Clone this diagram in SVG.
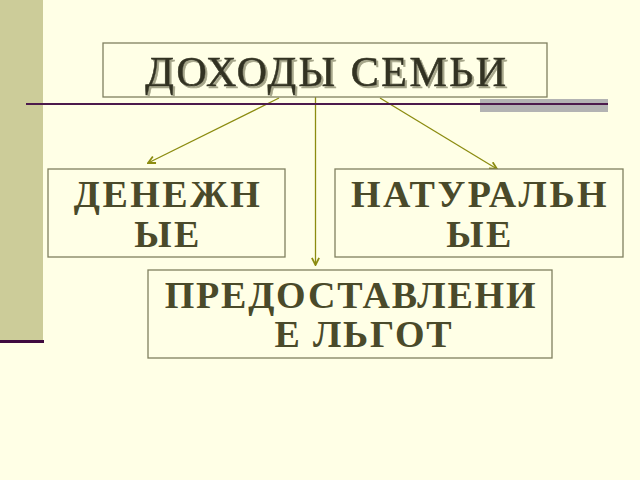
<svg xmlns="http://www.w3.org/2000/svg" width="640" height="480" viewBox="0 0 640 480">
<defs>
<style>
.box{fill:#FFFFE6;stroke:#808060;stroke-width:1.3}
.lbl{font-family:"Liberation Serif","Times New Roman",serif;font-weight:bold;font-size:38px;fill:#4A4A2A;text-anchor:middle;letter-spacing:2.5px}
.tight{letter-spacing:1.8px}
.title{font-family:"Liberation Serif","Times New Roman",serif;font-size:42px;text-anchor:middle;letter-spacing:2.5px;fill:#333322;stroke:#333322;stroke-width:0.6}
.conn{stroke:#8C8C10;stroke-width:1.3;fill:none}
</style>
<filter id="sh" x="-5%" y="-20%" width="110%" height="140%">
<feDropShadow dx="2" dy="2" stdDeviation="0.4" flood-color="#A6A68A" flood-opacity="1"/>
</filter>
<marker id="ah" viewBox="0 0 10 10" refX="9" refY="5" markerWidth="9" markerHeight="9" markerUnits="userSpaceOnUse" orient="auto">
<path d="M1,1 L9,5 L1,9" fill="none" stroke="#8C8C10" stroke-width="2"/>
</marker>
</defs>
<rect x="0" y="0" width="640" height="480" fill="#FFFFE6"/>
<rect x="0" y="0" width="43" height="341" fill="#CCCC99"/>
<line x1="0" y1="341.5" x2="44" y2="341.5" stroke="#3F0A3F" stroke-width="3"/>
<rect x="480" y="99" width="128" height="13" fill="#B3B3B3"/>
<g id="connectors">
<line class="conn" x1="279" y1="98" x2="148" y2="163" marker-end="url(#ah)"/>
<line class="conn" x1="315.5" y1="97" x2="315.5" y2="265" marker-end="url(#ah)"/>
<line class="conn" x1="380" y1="98" x2="497" y2="169" marker-end="url(#ah)"/>
</g>
<line x1="26" y1="104" x2="608" y2="104" stroke="#4C1A4C" stroke-width="2"/>
<g id="title">
<rect class="box" x="103" y="43" width="444" height="54"/>
<text class="title" x="327" y="86" filter="url(#sh)">ДОХОДЫ СЕМЬИ</text>
</g>
<g id="money">
<rect class="box" x="48" y="169" width="237" height="88"/>
<text class="lbl" x="168" y="207">ДЕНЕЖН</text>
<text class="lbl" x="168" y="247">ЫЕ</text>
</g>
<g id="natural">
<rect class="box" x="335" y="169" width="288" height="88"/>
<text class="lbl" x="480" y="207">НАТУРАЛЬН</text>
<text class="lbl" x="480" y="247">ЫЕ</text>
</g>
<g id="benefits">
<rect class="box" x="148" y="270" width="404" height="88"/>
<text class="lbl tight" x="351" y="308">ПРЕДОСТАВЛЕНИ</text>
<text class="lbl tight" x="364" y="347">Е ЛЬГОТ</text>
</g>
</svg>
